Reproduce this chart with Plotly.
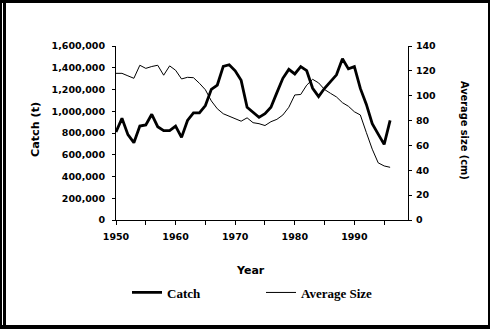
import plotly.graph_objects as go

# Annual series
years = list(range(1950, 1997))
catch_t = [
    810000, 935000, 785000, 711000, 864000, 874000, 972000, 858000, 821000, 821000,
    864000, 760000, 915000, 985000, 985000, 1052000, 1202000, 1241000, 1412000, 1428000,
    1372000, 1284000, 1036000, 987000, 944000, 978000, 1036000, 1171000, 1303000, 1385000,
    1343000, 1410000, 1373000, 1211000, 1134000, 1211000, 1272000, 1335000, 1483000, 1390000,
    1410000, 1210000, 1065000, 886000, 790000, 695000, 916000,
]
avg_size_cm = [
    118.0, 118.0, 116.0, 114.0, 124.5, 122.0, 123.5, 124.5, 116.5, 124.0,
    120.5, 113.5, 114.8, 114.5, 110.0, 104.8, 95.8, 89.5, 85.5, 83.7,
    81.5, 79.5, 82.2, 78.3, 77.5, 76.0, 79.1, 81.0, 84.5, 90.7,
    100.6, 101.0, 108.5, 113.2, 110.3, 105.0, 101.9, 99.0, 94.4, 91.5,
    87.1, 84.5, 70.5, 57.0, 46.0, 43.5, 42.4,
]

catch_ticks = list(range(0, 1600001, 200000))
size_ticks = list(range(0, 141, 20))

W, H = 490, 329
ML, MR, MT, MB = 116, 82, 46, 109
PW, PH = W - ML - MR, H - MT - MB


def px(x):
    return (x - ML) / PW


def py(y):
    return (H - MB - y) / PH


tick_font = dict(family="DejaVu Sans", size=9.5, color="black", weight="bold")


def title_font(size):
    return dict(family="DejaVu Sans", size=size, color="black", weight="bold")


fig = go.Figure()
fig.add_trace(go.Scatter(
    x=years, y=catch_t, name="Catch", mode="lines",
    line=dict(color="black", width=2.8), yaxis="y",
))
fig.add_trace(go.Scatter(
    x=years, y=avg_size_cm, name="Average Size", mode="lines",
    line=dict(color="black", width=1), yaxis="y2",
))

fig.update_layout(
    width=W, height=H,
    margin=dict(l=ML, r=MR, t=MT, b=MB, pad=0),
    paper_bgcolor="white", plot_bgcolor="white",
    xaxis=dict(
        range=[1950, 1999], tickmode="linear", tick0=1950, dtick=10,
        ticks="outside", ticklen=4, tickcolor="black", tickwidth=1,
        minor=dict(tickmode="linear", tick0=1950, dtick=5, ticks="outside",
                   ticklen=4, tickcolor="black", tickwidth=1),
        showline=True, linecolor="black", linewidth=1, mirror=False,
        showgrid=False, zeroline=False, tickfont=tick_font,
        ticklabelstandoff=4,
    ),
    yaxis=dict(
        range=[0, 1600000], tickvals=catch_ticks, tickformat=",d",
        ticks="outside", ticklen=3, tickcolor="black",
        showline=True, linecolor="black", linewidth=1,
        showgrid=False, zeroline=False, tickfont=tick_font,
        ticklabelstandoff=5,
    ),
    yaxis2=dict(
        range=[0, 140], tickvals=size_ticks, overlaying="y", side="right",
        anchor="x", ticks="outside", ticklen=3, tickcolor="black",
        showline=True, linecolor="black", linewidth=1,
        showgrid=False, zeroline=False, tickfont=tick_font,
        ticklabelstandoff=2,
    ),
    yaxis3=dict(
        range=[0, 140], tickvals=size_ticks, overlaying="y", side="right",
        anchor="x", ticks="inside", ticklen=3, tickcolor="black",
        showticklabels=False, showline=False, showgrid=False, zeroline=False,
    ),
    showlegend=True,
    legend=dict(
        orientation="h", x=px(127), xanchor="left", y=py(292.5), yanchor="middle",
        font=dict(family="Liberation Serif", size=13, color="black", weight="bold"),
        bgcolor="rgba(0,0,0,0)", itemwidth=30, entrywidth=89,
    ),
    annotations=[
        dict(text="Catch (t)", xref="paper", yref="paper", x=px(35), y=py(130),
             textangle=-90, showarrow=False, font=title_font(11.2),
             xanchor="center", yanchor="middle"),
        dict(text="Average size (cm)", xref="paper", yref="paper", x=px(465), y=py(130),
             textangle=90, showarrow=False, font=title_font(9.8),
             xanchor="center", yanchor="middle"),
        dict(text="Year", xref="paper", yref="paper", x=px(250), y=py(270),
             showarrow=False, font=title_font(11), xanchor="center", yanchor="middle"),
    ],
    shapes=[
        # outer frame
        dict(type="rect", xref="paper", yref="paper", x0=px(0), x1=px(490),
             y0=py(0), y1=py(3), fillcolor="black", line_width=0, layer="above"),
        dict(type="rect", xref="paper", yref="paper", x0=px(0), x1=px(2),
             y0=py(0), y1=py(329), fillcolor="black", line_width=0, layer="above"),
        dict(type="rect", xref="paper", yref="paper", x0=px(3), x1=px(6),
             y0=py(0), y1=py(329), fillcolor="black", line_width=0, layer="above"),
        dict(type="rect", xref="paper", yref="paper", x0=px(0), x1=px(490),
             y0=py(325), y1=py(329), fillcolor="black", line_width=0, layer="above"),
        dict(type="rect", xref="paper", yref="paper", x0=px(488), x1=px(490),
             y0=py(0), y1=py(329), fillcolor="black", line_width=0, layer="above"),
    ],
)

fig.write_html("out.html")
